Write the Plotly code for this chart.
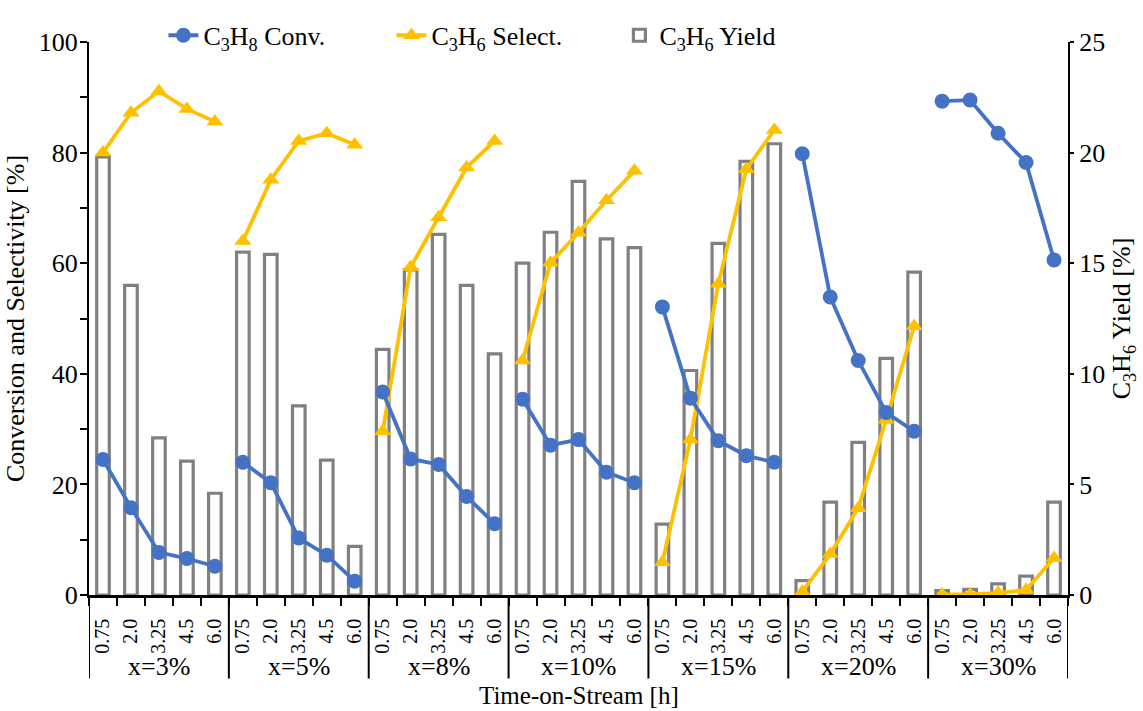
import plotly.graph_objects as go

times = ["0.75", "2.0", "3.25", "4.5", "6.0"]
groups = ["x=3%", "x=5%", "x=8%", "x=10%", "x=15%", "x=20%", "x=30%"]

conversion = [
    [24.5, 15.8, 7.7, 6.6, 5.2],
    [24.0, 20.3, 10.3, 7.2, 2.5],
    [36.7, 24.6, 23.6, 17.8, 12.9],
    [35.4, 27.1, 28.1, 22.2, 20.3],
    [52.1, 35.6, 27.9, 25.2, 24.0],
    [79.8, 53.9, 42.4, 33.0, 29.6],
    [89.3, 89.5, 83.5, 78.2, 60.6],
]
selectivity = [
    [80.0, 87.2, 91.1, 87.9, 85.6],
    [64.0, 75.1, 82.1, 83.5, 81.4],
    [29.6, 59.3, 68.3, 77.3, 82.1],
    [42.4, 60.1, 65.5, 71.4, 76.7],
    [5.9, 28.1, 56.3, 77.0, 84.1],
    [0.6, 7.4, 15.7, 31.7, 48.6],
    [0.1, 0.1, 0.4, 0.9, 6.7],
]
yield_ = [
    [19.8, 14.0, 7.1, 6.05, 4.6],
    [15.5, 15.4, 8.55, 6.1, 2.2],
    [11.1, 14.7, 16.3, 14.0, 10.9],
    [15.0, 16.4, 18.7, 16.1, 15.7],
    [3.2, 10.15, 15.9, 19.6, 20.4],
    [0.65, 4.2, 6.9, 10.7, 14.6],
    [0.2, 0.25, 0.5, 0.85, 4.2],
]

nT = len(times)
nG = len(groups)

bar_x, bar_y = [], []
line_x, conv_y, sel_y = [], [], []
for g in range(nG):
    for j in range(nT):
        idx = g * nT + j
        bar_x.append(idx)
        bar_y.append(yield_[g][j])
        line_x.append(idx)
        conv_y.append(conversion[g][j])
        sel_y.append(selectivity[g][j])
    line_x.append(None)
    conv_y.append(None)
    sel_y.append(None)

FONT = "Liberation Serif, Times New Roman, serif"
BLUE = "#4472C4"
GOLD = "#FFC000"
GRAY = "#808080"

fig = go.Figure()
fig.add_trace(go.Bar(
    x=bar_x, y=bar_y, width=0.45, yaxis="y",
    marker=dict(color="white", line=dict(color=GRAY, width=3.2)),
    name="C<sub>3</sub>H<sub>6</sub> Yield", legendrank=3,
))
fig.add_trace(go.Scatter(
    x=line_x, y=sel_y, yaxis="y2", mode="lines+markers",
    line=dict(color=GOLD, width=3.8),
    marker=dict(symbol="triangle-up", size=15, color=GOLD),
    name="C<sub>3</sub>H<sub>6</sub> Select.", legendrank=2,
))
fig.add_trace(go.Scatter(
    x=line_x, y=conv_y, yaxis="y2", mode="lines+markers",
    line=dict(color=BLUE, width=3.8),
    marker=dict(symbol="circle", size=15, color=BLUE),
    name="C<sub>3</sub>H<sub>8</sub> Conv.", legendrank=1,
))

shapes = []
for g in range(nG + 1):
    xv = g * nT - 0.5
    shapes.append(dict(type="line", xref="x", yref="paper", x0=xv, x1=xv,
                       y0=0, y1=-0.151, line=dict(color="black", width=2)))

annotations = []
for g, name in enumerate(groups):
    annotations.append(dict(x=g * nT + (nT - 1) / 2, y=-0.13, xref="x", yref="paper",
                            text=name, showarrow=False, yanchor="middle",
                            font=dict(family=FONT, size=26, color="black")))
annotations.append(dict(x=0.5, y=-0.1815, xref="paper", yref="paper",
                        text="Time-on-Stream [h]", showarrow=False, yanchor="middle",
                        font=dict(family=FONT, size=25, color="black")))

fig.update_layout(
    width=1143, height=711,
    margin=dict(l=89, r=66, t=33, b=116),
    plot_bgcolor="white", paper_bgcolor="white",
    font=dict(family=FONT, size=26, color="black"),
    showlegend=True,
    legend=dict(orientation="h", x=0.076, y=1.012, xanchor="left", yanchor="middle",
                bgcolor="rgba(0,0,0,0)", font=dict(family=FONT, size=26),
                traceorder="normal", entrywidth=183, entrywidthmode="pixels"),
    xaxis=dict(
        range=[-0.5, nG * nT - 0.5],
        tickmode="array", tickvals=list(range(nG * nT)), ticktext=times * nG,
        tickangle=-90, ticks="", ticklabelstandoff=13,
        tickfont=dict(family=FONT, size=20),
        showline=True, linecolor="black", linewidth=2.5,
        showgrid=False, zeroline=False,
        minor=dict(tickmode="array", tickvals=[k - 0.5 for k in range(nG * nT + 1)],
                   ticks="outside", ticklen=8, tickwidth=2, tickcolor="black", showgrid=False),
    ),
    yaxis=dict(
        side="right", range=[0, 25], tickmode="array", tickvals=[0, 5, 10, 15, 20, 25],
        ticks="outside", ticklen=4, tickwidth=2, tickcolor="black",
        showline=True, linecolor="black", linewidth=2,
        showgrid=False, zeroline=False,
        title=dict(text="C<sub>3</sub>H<sub>6</sub> Yield [%]", standoff=8,
                   font=dict(family=FONT, size=26)),
        tickfont=dict(family=FONT, size=26),
    ),
    yaxis2=dict(
        overlaying="y", side="left", range=[0, 100], tickmode="array",
        tickvals=[0, 20, 40, 60, 80, 100],
        ticks="", ticklabelstandoff=4,
        showline=True, linecolor="black", linewidth=2,
        showgrid=False, zeroline=False,
        minor=dict(tickmode="array", tickvals=list(range(0, 101, 10)), ticks="outside",
                   ticklen=7, tickwidth=2, tickcolor="black", showgrid=False),
        title=dict(text="Conversion and Selectivity [%]", standoff=7,
                   font=dict(family=FONT, size=26)),
        tickfont=dict(family=FONT, size=26),
    ),
    shapes=shapes,
    annotations=annotations,
)

fig.write_html("out.html")
